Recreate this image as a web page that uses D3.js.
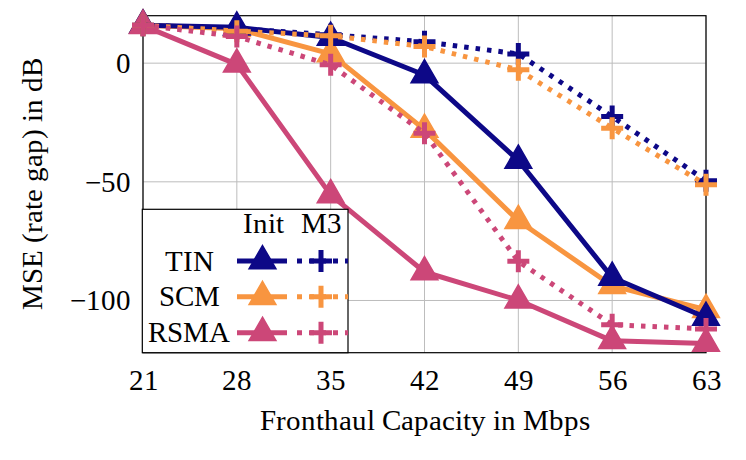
<!DOCTYPE html>
<html>
<head>
<meta charset="utf-8">
<script src="https://cdn.jsdelivr.net/npm/d3@7"></script>
<style>
  @font-face {
    font-family: 'ChartSerif';
    src: local('Liberation Serif'), local('LiberationSerif'), local('LiberationSerif-Regular'),
         local('Tinos'), local('Tinos-Regular'), local('Times New Roman'),
         local('DejaVu Serif'), local('DejaVuSerif'), local('Noto Serif'), local('NotoSerif-Regular');
  }
  body { margin: 0; background: #fff; }
  svg text { font-family: ChartSerif, Liberation Serif, serif; fill: #000; }
</style>
</head>
<body>
<div id="chart"></div>
<script>
const capacity = [21, 28, 35, 42, 49, 56, 63];
const xTicks = [21, 28, 35, 42, 49, 56, 63];
const yTicks = [0, -50, -100];

const tinInit = [16, 15.1, 10.8, -5, -41, -90.3, -107.2];
const scmInit = [16, 14.5, 3.9, -28, -66.4, -93.8, -103.9];
const rsmaInit = [15.8, -0.5, -55.5, -88, -99.9, -117, -118.1];
const tinM3 = [16, 14.5, 12, 9, 3.9, -22.5, -49.5];
const scmM3 = [16, 13.5, 11.5, 7, -2.8, -27.4, -51.2];
const rsmaM3 = [16, 11.2, -0.7, -29.5, -83.5, -110.2, -112];

const colors = { TIN: '#0d0887', SCM: '#f89540', RSMA: '#cc4778' };

// draw order: solid first, then dotted
const series = [
  { name: 'SCM', kind: 'Init', values: scmInit },
  { name: 'TIN', kind: 'Init', values: tinInit },
  { name: 'RSMA', kind: 'Init', values: rsmaInit },
  { name: 'TIN', kind: 'M3', values: tinM3 },
  { name: 'SCM', kind: 'M3', values: scmM3 },
  { name: 'RSMA', kind: 'M3', values: rsmaM3 },
];
const legendRows = ['TIN', 'SCM', 'RSMA'];

const width = 746;
const height = 460;
const margin = { top: 15.7, right: 40, bottom: 107.3, left: 143 };
const innerWidth = width - margin.left - margin.right;
const innerHeight = height - margin.top - margin.bottom;

const svg = d3.select('#chart')
  .append('svg')
  .attr('width', width)
  .attr('height', height);

const g = svg.append('g').attr('transform', `translate(${margin.left},${margin.top})`);

const x = d3.scaleLinear().domain([21, 63]).range([0, innerWidth]);
const y = d3.scaleLinear().domain([-122, 20]).range([innerHeight, 0]);

// grid
g.append('g')
  .selectAll('line')
  .data(xTicks)
  .enter()
  .append('line')
  .attr('x1', (d) => x(d))
  .attr('x2', (d) => x(d))
  .attr('y1', 0)
  .attr('y2', innerHeight)
  .attr('stroke', '#bdbdbd')
  .attr('stroke-width', 1);

g.append('g')
  .selectAll('line')
  .data(yTicks)
  .enter()
  .append('line')
  .attr('x1', 0)
  .attr('x2', innerWidth)
  .attr('y1', (d) => y(d))
  .attr('y2', (d) => y(d))
  .attr('stroke', '#bdbdbd')
  .attr('stroke-width', 1);

// axes
const xAxis = d3.axisBottom(x).tickValues(xTicks).tickSize(0).tickPadding(10);
g.append('g')
  .attr('transform', `translate(0,${innerHeight})`)
  .call(xAxis)
  .attr('font-family', null)
  .call((s) => s.select('.domain').remove())
  .selectAll('text')
  .attr('dy', '0.95em')
  .style('font-size', '29px');

const yAxis = d3.axisLeft(y)
  .tickValues(yTicks)
  .tickSize(0)
  .tickPadding(12)
  .tickFormat((v) => (v < 0 ? '\u2212' + Math.abs(v) : `${v}`));
g.append('g')
  .call(yAxis)
  .attr('font-family', null)
  .call((s) => s.select('.domain').remove())
  .selectAll('text')
  .style('font-size', '29px');

g.append('rect')
  .attr('x', 0)
  .attr('y', 0)
  .attr('width', innerWidth)
  .attr('height', innerHeight)
  .attr('fill', 'none')
  .attr('stroke', '#000')
  .attr('stroke-width', 1.2);

svg.append('text')
  .attr('x', margin.left + innerWidth / 2)
  .attr('y', 430)
  .attr('text-anchor', 'middle')
  .style('font-size', '29px')
  .text('Fronthaul Capacity in Mbps');

svg.append('text')
  .attr('transform', `translate(42,${margin.top + innerHeight / 2}) rotate(-90)`)
  .attr('text-anchor', 'middle')
  .style('font-size', '29px')
  .text('MSE (rate gap) in dB');

// markers
const triR = 15.5;
const triPath = `M0,${-triR} L${triR * Math.sqrt(3) / 2},${triR / 2} L${-triR * Math.sqrt(3) / 2},${triR / 2} Z`;
const plusA = 11;
const plusPath = `M${-plusA},0 L${plusA},0 M0,${-plusA} L0,${plusA}`;

function drawMarker(sel, kind, color) {
  if (kind === 'Init') {
    sel.append('path')
      .attr('d', triPath)
      .attr('fill', color)
      .attr('stroke', color)
      .attr('stroke-width', 1.5)
      .attr('stroke-linejoin', 'miter');
  } else {
    sel.append('path')
      .attr('d', plusPath)
      .attr('fill', 'none')
      .attr('stroke', color)
      .attr('stroke-width', 5);
  }
}

const line = d3.line()
  .x((d, i) => x(capacity[i]))
  .y((d) => y(d));

series.forEach((s) => {
  const color = colors[s.name];
  const grp = g.append('g');
  grp.append('path')
    .datum(s.values)
    .attr('d', line)
    .attr('fill', 'none')
    .attr('stroke', color)
    .attr('stroke-width', 5)
    .attr('stroke-linejoin', 'round')
    .attr('stroke-dasharray', s.kind === 'M3' ? '4.5 7' : null);
  s.values.forEach((v, i) => {
    const m = grp.append('g').attr('transform', `translate(${x(capacity[i])},${y(v)})`);
    drawMarker(m, s.kind, color);
  });
});

// legend
const lg = svg.append('g');
const lx0 = 142.3;
const ly0 = 209.3;
const lx1 = 348;
const ly1 = margin.top + innerHeight;
lg.append('rect')
  .attr('x', lx0)
  .attr('y', ly0)
  .attr('width', lx1 - lx0)
  .attr('height', ly1 - ly0)
  .attr('fill', '#fff')
  .attr('stroke', '#000')
  .attr('stroke-width', 1.2);

lg.append('text').attr('x', 263).attr('y', 233).attr('text-anchor', 'middle')
  .style('font-size', '29px').text('Init');
lg.append('text').attr('x', 321).attr('y', 233).attr('text-anchor', 'middle')
  .style('font-size', '29px').text('M3');

const rowY = d3.scalePoint().domain(legendRows).range([261, 332.7]);

legendRows.forEach((name) => {
  const cy = rowY(name);
  const color = colors[name];
  lg.append('text')
    .attr('x', 189)
    .attr('y', cy + 9.5)
    .attr('text-anchor', 'middle')
    .style('font-size', '29px')
    .text(name);
  lg.append('line')
    .attr('x1', 237).attr('x2', 287)
    .attr('y1', cy).attr('y2', cy)
    .attr('stroke', color).attr('stroke-width', 5);
  drawMarker(lg.append('g').attr('transform', `translate(262.5,${cy})`), 'Init', color);
  lg.append('line')
    .attr('x1', 297).attr('x2', 348)
    .attr('y1', cy).attr('y2', cy)
    .attr('stroke', color).attr('stroke-width', 5)
    .attr('stroke-dasharray', '5 7');
  drawMarker(lg.append('g').attr('transform', `translate(321,${cy})`), 'M3', color);
});
</script>
</body>
</html>
